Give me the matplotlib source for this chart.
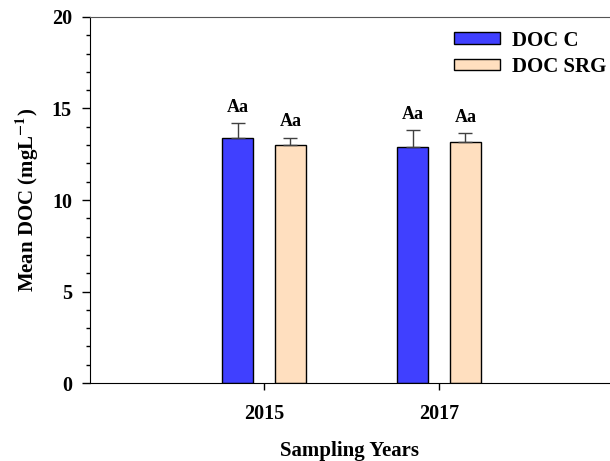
import numpy as np
import matplotlib.pyplot as plt
from matplotlib.ticker import MultipleLocator

plt.rcParams['font.family'] = ['Liberation Serif', 'DejaVu Serif']
plt.rcParams['font.weight'] = 'bold'
plt.rcParams['mathtext.fontset'] = 'stix'

years = ['2015', '2017']
doc_c = [13.4, 12.9]
doc_c_err = [0.8, 0.9]
doc_srg = [13.0, 13.15]
doc_srg_err = [0.4, 0.5]
letters_c = ['Aa', 'Aa']
letters_srg = ['Aa', 'Aa']

fig = plt.figure(figsize=(6.10, 4.61), dpi=100)
ax = fig.add_axes([90/610, 1 - 383/461, 520/610, 366/461])

x = np.arange(len(years))
w = 0.177
off = 0.151
ebar = dict(ecolor='#404040', capsize=5, elinewidth=1, capthick=1)
ax.bar(x - off, doc_c, w, color='#4040ff', edgecolor='black', linewidth=1, label='DOC C',
       yerr=[np.zeros(2), doc_c_err], error_kw=ebar)
ax.bar(x + off, doc_srg, w, color='#ffdfbf', edgecolor='black', linewidth=1, label='DOC SRG',
       yerr=[np.zeros(2), doc_srg_err], error_kw=ebar)

for i in range(len(years)):
	ax.text(x[i] - off, doc_c[i] + doc_c_err[i] + 0.4, letters_c[i], ha='center', va='bottom', fontsize=13, fontweight='bold')
	ax.text(x[i] + off, doc_srg[i] + doc_srg_err[i] + 0.4, letters_srg[i], ha='center', va='bottom', fontsize=13, fontweight='bold')

ax.set_xlim(-0.994, 1.977)
ax.set_ylim(0, 20)
ax.set_xticks(x)
ax.set_xticklabels(years, fontsize=14.5, fontweight='bold')
ax.yaxis.set_major_locator(MultipleLocator(5))
ax.yaxis.set_minor_locator(MultipleLocator(1))
ax.tick_params(axis='y', labelsize=14.5, direction='out', length=6, width=1, pad=7)
ax.tick_params(axis='y', which='minor', length=3, width=1)
ax.tick_params(axis='x', direction='out', length=5, width=1, pad=10)
for lab in ax.get_yticklabels():
	lab.set_fontweight('bold')
ax.spines['right'].set_visible(False)
ax.spines['top'].set_color('#555555')

ax.set_xlabel('Sampling Years', fontsize=15, fontweight='bold', labelpad=12)
ax.set_ylabel(r'Mean DOC (mgL$^{\mathbf{-1}}$)', fontsize=15, fontweight='bold', labelpad=8)

ax.legend(loc='upper right', bbox_to_anchor=(1.03, 1.014), frameon=False, fontsize=15,
          handlelength=2.2, handleheight=0.5, handletextpad=0.6, labelspacing=0.3)

plt.savefig('out.png', dpi=100)
